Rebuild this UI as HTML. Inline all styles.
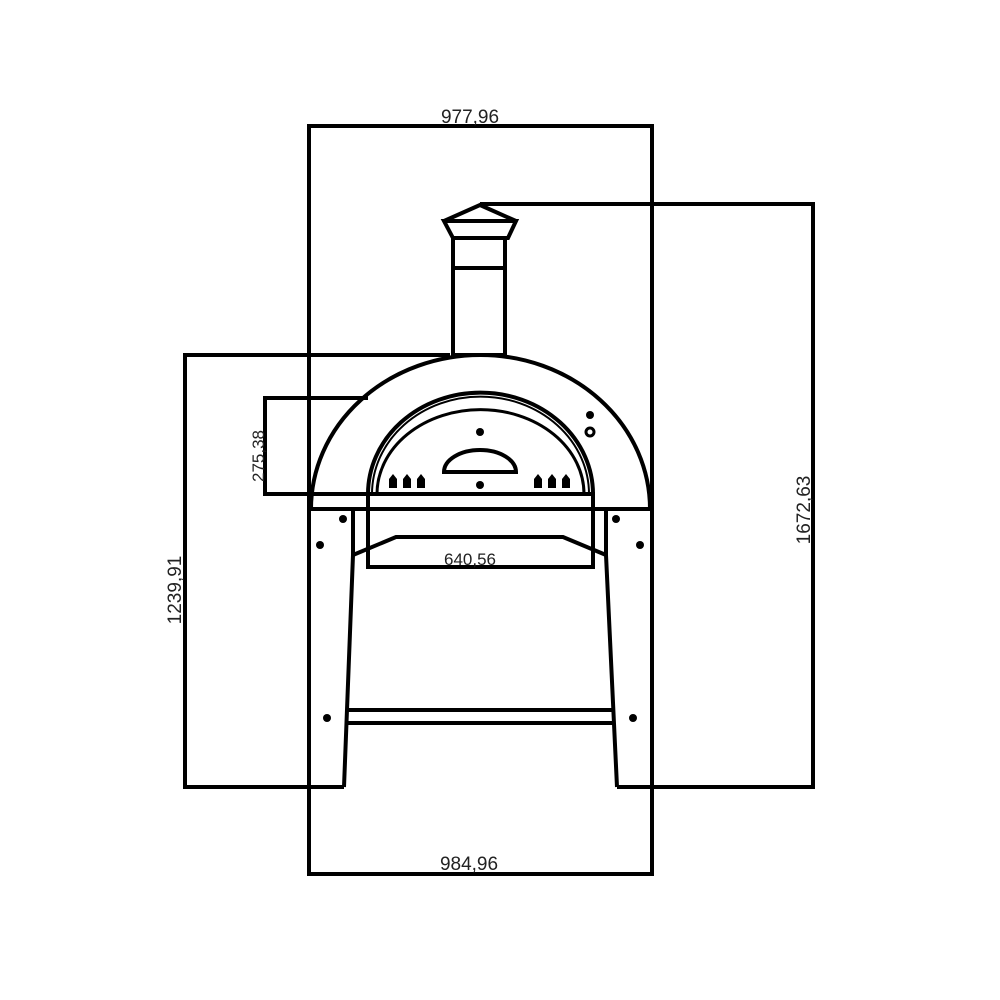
<!DOCTYPE html><html><head><style>body{margin:0;background:#fff}</style></head><body>
<svg width="1000" height="1000" viewBox="0 0 1000 1000" xmlns="http://www.w3.org/2000/svg" style="display:block">
<g fill="none" stroke="#000" stroke-width="4">
<rect x="309" y="126" width="343" height="748"/>
<polyline points="480,204 813,204 813,787 617,787"/>
<polyline points="450,355 185,355 185,787 344,787"/>
<polyline points="368,398 265,398 265,494 370,494"/>
<polygon points="480,205 444,221 516,221"/>
<polygon points="444,221 516,221 508,238 453,238"/>
<rect x="453" y="238" width="52" height="117"/>
<line x1="453" y1="268" x2="505" y2="268"/>
<path d="M311,509 A169.5,154 0 0 1 480.5,355 A169.5,154 0 0 1 650,509"/>
<path d="M368,494 A112,101 0 0 1 593,494" />
<path d="M372,494 A108,97 0 0 1 589,494" stroke-width="2"/>
<path d="M377,494 A103,84 0 0 1 584,494" stroke-width="3"/>
<rect x="368" y="494" width="225" height="73"/>
<line x1="309" y1="509" x2="652" y2="509"/>
<polyline points="353,509 353,555 344,787"/>
<polyline points="606,509 606,555 617,787"/>
<polyline points="353,555 396,537 563,537 606,555"/>
<line x1="346" y1="710" x2="614" y2="710"/>
<line x1="346" y1="723" x2="614" y2="723"/>
<path d="M444,472 A36,22 0 0 1 516,472 Z" stroke-width="4"/>
<circle cx="590" cy="432" r="4" stroke-width="3"/>
</g>
<g fill="#000">
<circle cx="590" cy="415" r="4"/><circle cx="480" cy="432" r="4"/><circle cx="480" cy="485" r="4"/>
<circle cx="343" cy="519" r="4"/><circle cx="320" cy="545" r="4"/><circle cx="616" cy="519" r="4"/><circle cx="640" cy="545" r="4"/>
<circle cx="327" cy="718" r="4"/><circle cx="633" cy="718" r="4"/>
<path d="M389,488v-9l4,-5l4,5v9z M403,488v-9l4,-5l4,5v9z M417,488v-9l4,-5l4,5v9z M534,488v-9l4,-5l4,5v9z M548,488v-9l4,-5l4,5v9z M562,488v-9l4,-5l4,5v9z"/>
</g>
<g font-family="Liberation Sans, sans-serif" font-size="19" fill="#222" text-anchor="middle">
<text x="470" y="123">977,96</text>
<text x="470" y="565" font-size="17">640,56</text>
<text x="469" y="870">984,96</text>
<text transform="translate(810,510) rotate(-90)">1672,63</text>
<text transform="translate(181,590) rotate(-90)">1239,91</text>
<text transform="translate(264,456) rotate(-90)" font-size="17">275,38</text>
</g>
</svg>
</body></html>
